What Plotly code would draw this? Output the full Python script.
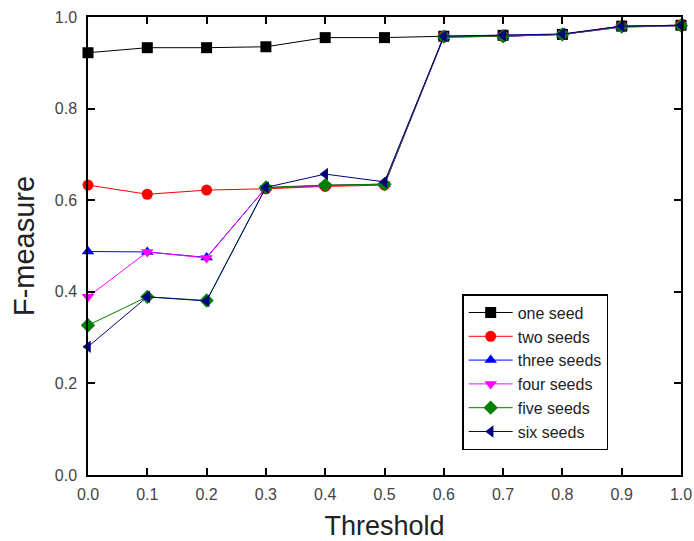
import plotly.graph_objects as go

thresholds = [0.0, 0.1, 0.2, 0.3, 0.4, 0.5, 0.6, 0.7, 0.8, 0.9, 1.0]
one_seed = [0.922, 0.933, 0.933, 0.935, 0.955, 0.955, 0.958, 0.96, 0.962, 0.98, 0.982]
two_seeds = [0.633, 0.613, 0.622, 0.625, 0.63, 0.633, 0.958, 0.958, 0.962, 0.98, 0.982]
three_seeds = [0.488, 0.487, 0.475, 0.627, 0.632, 0.635, 0.956, 0.958, 0.962, 0.978, 0.981]
four_seeds = [0.389, 0.487, 0.474, 0.627, 0.632, 0.635, 0.956, 0.958, 0.962, 0.978, 0.981]
five_seeds = [0.327, 0.389, 0.381, 0.628, 0.633, 0.635, 0.957, 0.958, 0.962, 0.979, 0.981]
six_seeds = [0.28, 0.389, 0.38, 0.628, 0.657, 0.64, 0.958, 0.96, 0.963, 0.98, 0.982]

series = [
    ("one seed", one_seed, "black", "square"),
    ("two seeds", two_seeds, "red", "circle"),
    ("three seeds", three_seeds, "blue", "triangle-up"),
    ("four seeds", four_seeds, "magenta", "triangle-down"),
    ("five seeds", five_seeds, "green", "diamond"),
    ("six seeds", six_seeds, "navy", "triangle-left"),
]

fig = go.Figure()
for name, vals, color, sym in series:
    fig.add_trace(go.Scatter(
        x=thresholds, y=vals, name=name, mode="lines+markers",
        line=dict(color=color, width=1),
        marker=dict(symbol=sym, size=11, color=color),
        cliponaxis=False,
    ))

axis_common = dict(
    showline=True, linecolor="black", linewidth=1.5, mirror="ticks",
    ticks="inside", ticklen=7, tickcolor="black", tickwidth=1.5,
    showgrid=False, zeroline=False, automargin=False,
    tickfont=dict(family="Liberation Sans, Arial", size=16, color="#444"),
)

fig.update_layout(
    width=694, height=541,
    margin=dict(l=88, r=13, t=17, b=66),
    plot_bgcolor="white", paper_bgcolor="white",
    font=dict(family="Liberation Sans, Arial", color="black"),
    xaxis=dict(range=[0, 1], dtick=0.1, tickformat=".1f",
               title=dict(text="Threshold", font=dict(size=27, color="#222"), standoff=15),
               **axis_common),
    yaxis=dict(range=[0, 1], dtick=0.2, tickformat=".1f",
               title=dict(text="F-measure", font=dict(size=29, color="#222"), standoff=12),
               **axis_common),
    legend=dict(x=0.631, y=0.395, xanchor="left", yanchor="top",
                bordercolor="black", borderwidth=1.5, bgcolor="white",
                font=dict(size=16, color="#222"), tracegroupgap=0,
                itemwidth=44),
    showlegend=True,
)
fig.update_xaxes(ticklabelstandoff=4)
fig.update_yaxes(ticklabelstandoff=6)

# remove the default page margin so the figure fills the window exactly
fig.write_html("out.html",
               config={"displayModeBar": False},
               post_script="document.body.style.margin='0';document.body.style.overflow='hidden';")
